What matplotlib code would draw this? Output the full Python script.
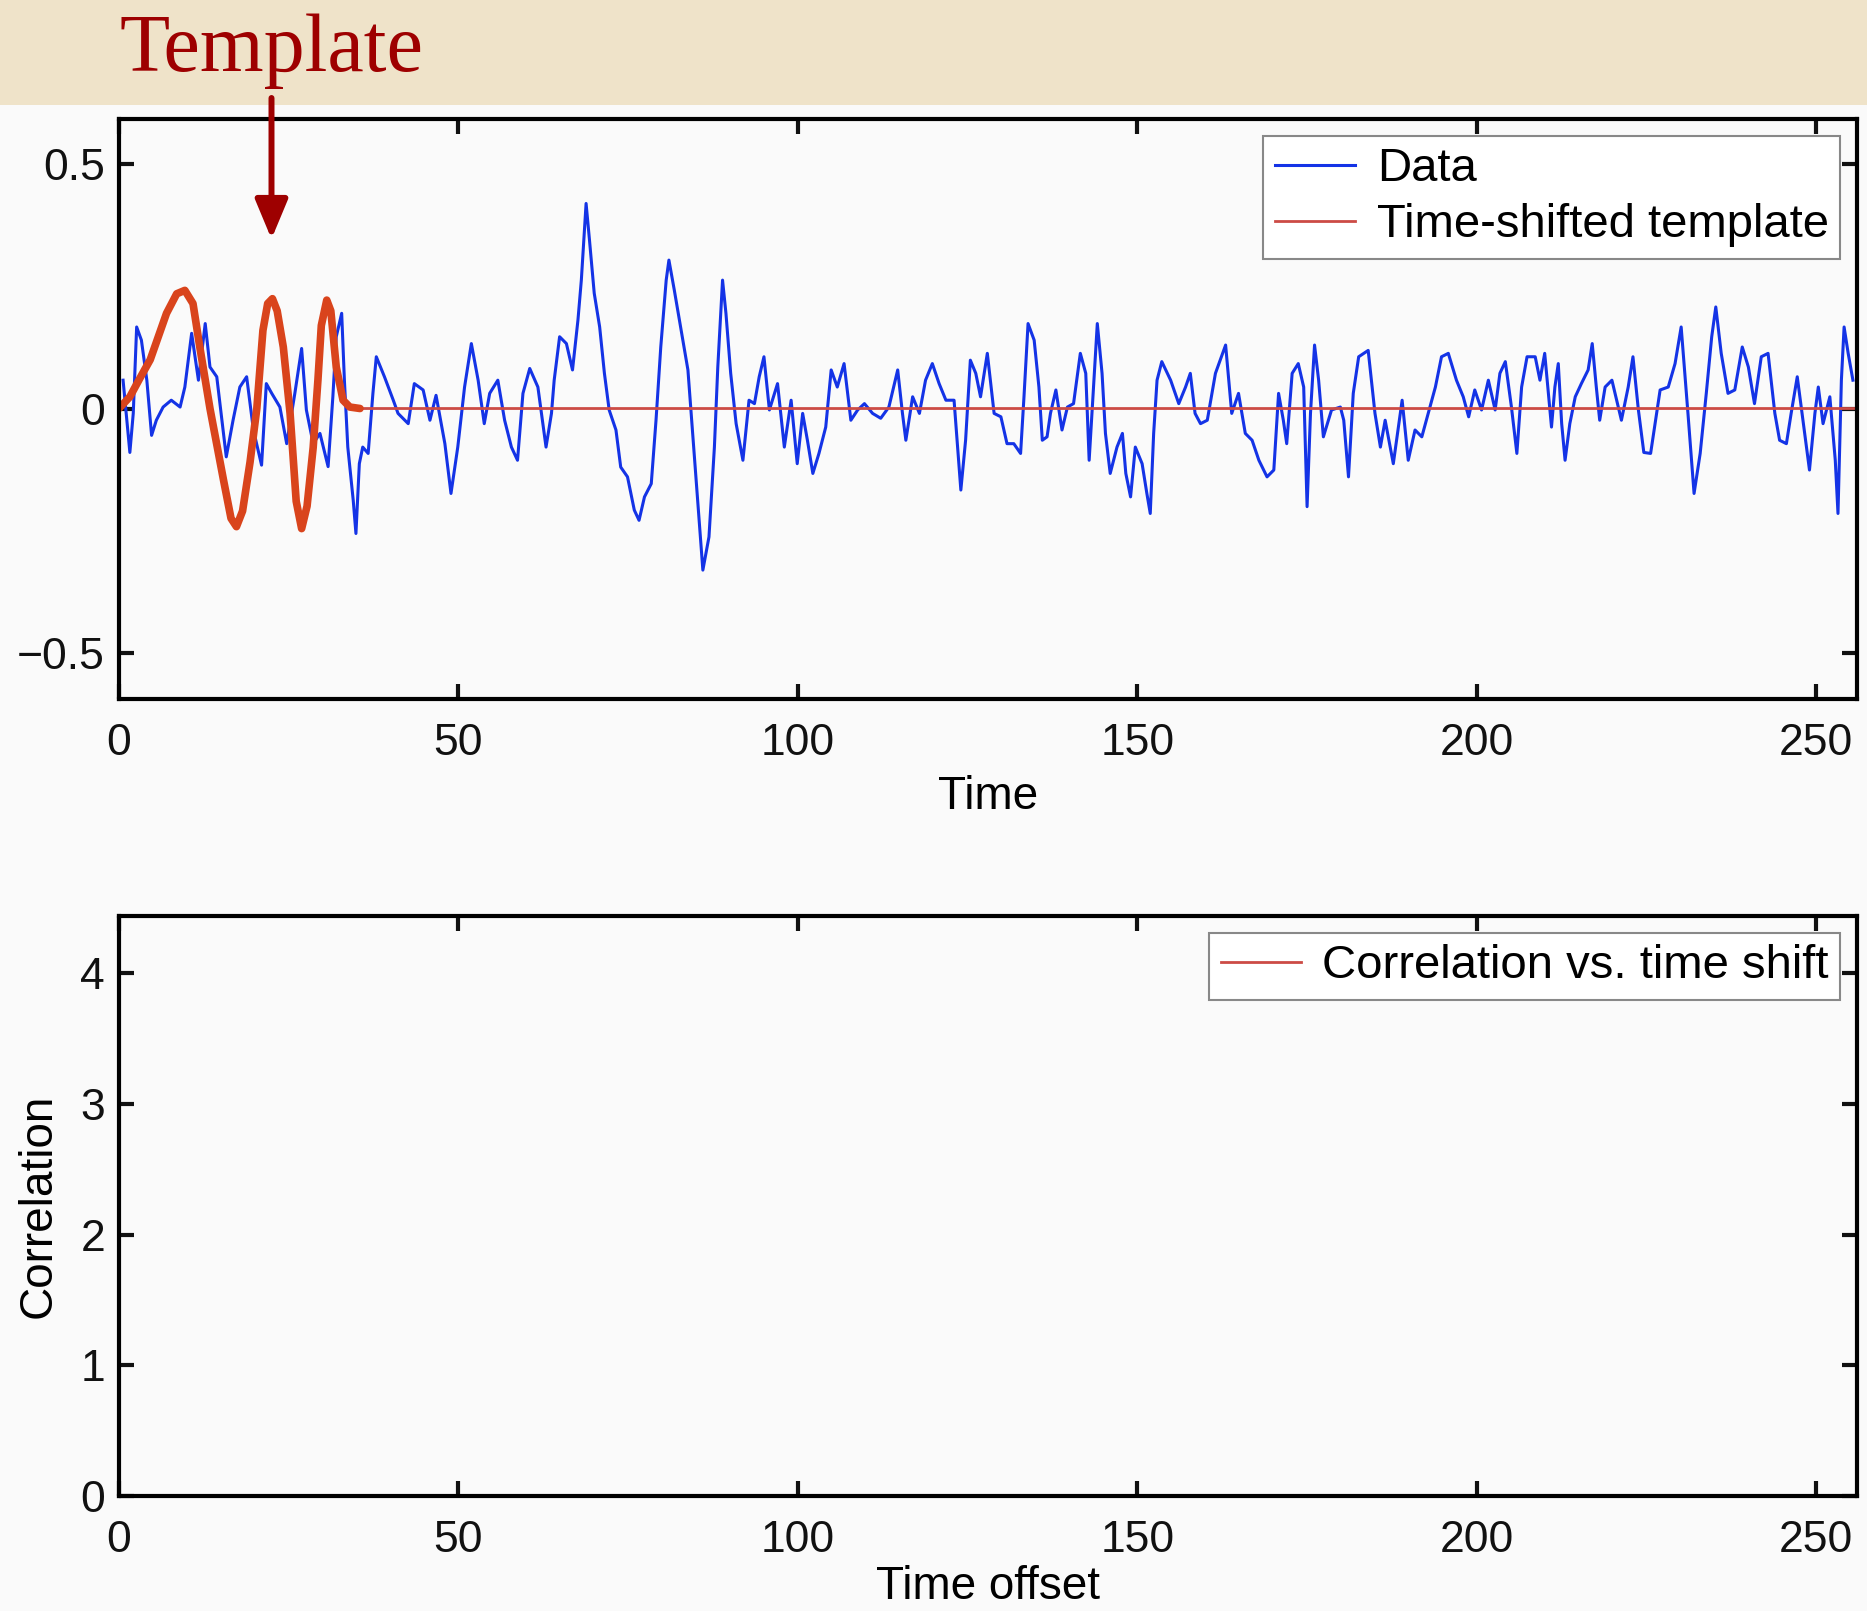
"""Matched filter slide: data vs. time-shifted template, and empty correlation panel."""
import matplotlib

matplotlib.use("Agg")
import matplotlib.pyplot as plt
from matplotlib.patches import FancyArrowPatch, Rectangle

# --- data ----------------------------------------------------------------
data_time = [
    0.6, 1.6, 2.1, 2.6, 3.3, 4.1, 4.8, 5.5, 6.5, 7.7, 9.0, 9.7, 10.7, 11.7, 12.7, 13.4,
    14.4, 15.8, 16.8, 17.8, 18.8, 19.8, 21.0, 21.7, 22.5, 23.7, 24.7, 25.9, 26.9, 27.6,
    28.6, 29.6, 30.8, 31.5, 32.0, 32.8, 33.2, 33.7, 34.5, 34.9, 35.4, 35.9, 36.7, 37.4,
    37.9, 39.1, 40.4, 41.1, 42.6, 43.5, 44.8, 45.8, 46.7, 48.0, 48.9, 49.9, 50.9, 51.9,
    52.9, 53.8, 54.6, 55.8, 56.8, 57.8, 58.7, 59.5, 60.5, 61.7, 62.9, 63.7, 64.1, 64.9,
    65.9, 66.8, 67.6, 68.1, 68.8, 69.3, 70.0, 70.8, 71.5, 72.2, 73.2, 73.9, 74.9, 75.9,
    76.6, 77.4, 78.4, 79.1, 79.8, 80.6, 81.0, 81.8, 82.8, 83.8, 84.5, 85.2, 86.0, 86.9,
    87.7, 88.2, 88.9, 89.4, 90.1, 90.9, 91.9, 92.8, 93.6, 94.3, 95.0, 95.8, 97.0, 98.0,
    99.0, 99.9, 100.7, 101.4, 102.2, 103.1, 104.1, 104.9, 105.8, 106.8, 107.8, 108.8,
    109.8, 111.0, 112.2, 113.4, 114.7, 115.4, 115.9, 116.9, 117.9, 118.8, 119.8, 120.8,
    121.8, 123.0, 124.0, 124.7, 125.4, 126.2, 126.9, 127.9, 128.9, 129.9, 130.8, 131.8,
    132.8, 133.3, 133.9, 134.8, 135.5, 136.0, 136.7, 137.2, 138.0, 138.9, 139.7, 140.6,
    141.6, 142.4, 142.9, 143.6, 144.1, 144.8, 145.3, 146.0, 147.0, 147.8, 148.3, 149.0,
    149.7, 150.7, 151.4, 151.9, 152.4, 152.9, 153.6, 154.9, 156.1, 157.1, 157.8, 158.5,
    159.3, 160.3, 161.5, 163.0, 163.9, 164.9, 165.9, 166.9, 167.9, 169.1, 170.1, 170.8,
    171.5, 172.0, 172.8, 173.7, 174.5, 175.0, 175.5, 176.1, 176.7, 177.4, 178.6, 179.9,
    180.4, 181.1, 181.8, 182.6, 184.0, 185.0, 185.8, 186.5, 187.7, 189.0, 189.9, 190.9,
    191.9, 193.1, 193.9, 194.8, 195.8, 197.0, 198.0, 198.8, 199.7, 200.7, 201.7, 202.7,
    203.4, 204.2, 205.1, 205.9, 206.6, 207.4, 208.6, 209.3, 210.0, 211.0, 211.5, 212.0,
    212.5, 213.0, 213.7, 214.5, 215.4, 216.4, 217.0, 217.6, 218.1, 218.9, 219.9, 220.6,
    221.3, 222.3, 223.0, 223.8, 224.6, 225.6, 227.0, 228.2, 229.2, 230.1, 231.1, 232.0,
    232.9, 233.8, 234.6, 235.2, 236.0, 237.0, 238.0, 239.1, 240.0, 240.9, 241.9, 242.9,
    243.9, 244.6, 245.6, 246.3, 247.2, 248.1, 249.0, 249.8, 250.3, 251.0, 252.0, 252.8,
    253.2, 253.7, 254.1, 254.7, 255.4,
]
data_value = [
    0.058, -0.090, -0.010, 0.167, 0.140, 0.058, -0.055, -0.024, 0.003, 0.017, 0.003, 0.044,
    0.154, 0.058, 0.174, 0.085, 0.065, -0.099, -0.024, 0.044, 0.065, -0.044, -0.116, 0.051,
    0.031, 0.003, -0.072, 0.031, 0.123, -0.003, -0.072, -0.051, -0.119, 0.024, 0.147, 0.195,
    0.058, -0.079, -0.188, -0.256, -0.113, -0.079, -0.092, 0.031, 0.106, 0.065, 0.017, -0.010,
    -0.031, 0.051, 0.038, -0.024, 0.027, -0.072, -0.174, -0.079, 0.044, 0.133, 0.058, -0.031,
    0.031, 0.058, -0.024, -0.079, -0.106, 0.031, 0.082, 0.044, -0.079, -0.010, 0.058, 0.147,
    0.133, 0.079, 0.181, 0.263, 0.420, 0.345, 0.236, 0.167, 0.072, -0.003, -0.044, -0.120,
    -0.140, -0.208, -0.229, -0.181, -0.154, -0.024, 0.126, 0.263, 0.304, 0.242, 0.160, 0.079,
    -0.051, -0.181, -0.331, -0.263, -0.079, 0.085, 0.263, 0.195, 0.072, -0.031, -0.106, 0.017,
    0.010, 0.065, 0.106, -0.003, 0.051, -0.079, 0.017, -0.113, -0.010, -0.065, -0.133, -0.092,
    -0.038, 0.079, 0.044, 0.092, -0.024, -0.003, 0.010, -0.010, -0.020, 0.003, 0.079, -0.010,
    -0.065, 0.024, -0.010, 0.058, 0.092, 0.051, 0.017, 0.017, -0.167, -0.065, 0.099, 0.072,
    0.024, 0.113, -0.010, -0.017, -0.072, -0.072, -0.092, 0.024, 0.174, 0.140, 0.044, -0.065,
    -0.058, -0.010, 0.038, -0.044, 0.003, 0.010, 0.113, 0.072, -0.106, 0.058, 0.174, 0.072,
    -0.051, -0.133, -0.079, -0.051, -0.133, -0.181, -0.079, -0.113, -0.174, -0.215, -0.051, 0.058,
    0.096, 0.058, 0.010, 0.044, 0.072, -0.010, -0.031, -0.024, 0.072, 0.130, -0.010, 0.031,
    -0.051, -0.065, -0.106, -0.140, -0.126, 0.031, -0.024, -0.072, 0.072, 0.092, 0.044, -0.201,
    -0.010, 0.130, 0.058, -0.058, -0.003, 0.003, -0.024, -0.140, 0.031, 0.106, 0.119, -0.010,
    -0.079, -0.024, -0.113, 0.017, -0.106, -0.044, -0.058, 0.003, 0.044, 0.106, 0.113, 0.058,
    0.024, -0.017, 0.038, -0.003, 0.058, -0.003, 0.072, 0.096, 0.003, -0.092, 0.044, 0.106,
    0.106, 0.058, 0.113, -0.038, 0.044, 0.092, -0.031, -0.106, -0.031, 0.024, 0.051, 0.079,
    0.133, 0.044, -0.024, 0.044, 0.058, 0.017, -0.024, 0.044, 0.106, -0.003, -0.090, -0.092,
    0.038, 0.044, 0.092, 0.167, -0.010, -0.174, -0.092, 0.031, 0.147, 0.208, 0.113, 0.031,
    0.038, 0.126, 0.085, 0.010, 0.106, 0.113, -0.010, -0.065, -0.072, -0.010, 0.065, -0.031,
    -0.126, -0.010, 0.044, -0.031, 0.024, -0.106, -0.215, 0.058, 0.167, 0.113, 0.058,
]

template_time = [
    0.0, 1.6, 3.0, 4.6, 7.0, 8.5, 9.7, 10.9, 11.9, 13.4, 15.4, 16.5, 17.3, 18.2, 19.3,
    20.3, 21.2, 21.9, 22.6, 23.3, 24.2, 25.2, 26.1, 26.9, 27.7, 28.6, 29.3, 29.8, 30.6,
    31.2, 32.0, 33.0, 34.0, 35.5,
]
template_value = [
    0.0, 0.024, 0.06, 0.10, 0.195, 0.235, 0.242, 0.215, 0.126, 0.0, -0.147, -0.225, -0.242,
    -0.21, -0.11, 0.0, 0.16, 0.215, 0.225, 0.20, 0.126, -0.01, -0.19, -0.246, -0.20, -0.08,
    0.058, 0.17, 0.222, 0.20, 0.085, 0.017, 0.003, 0.0,
]
# shifted template is zero after the chirp, out to the end of the record
shift_end = 256

corr_offset = []
corr_value = []

W, H = 1867, 1611
BG = "#FAFAFA"
plt.rcParams["font.family"] = ["Liberation Sans", "DejaVu Sans"]

fig = plt.figure(figsize=(W / 100, H / 100), dpi=100)
fig.patch.set_facecolor(BG)
fig.add_artist(Rectangle((0, 1 - 105 / H), 1, 105 / H, transform=fig.transFigure,
                         facecolor="#EFE3C9", edgecolor="none", zorder=0))


def style_axes(ax):
    ax.set_facecolor(BG)
    for sp in ax.spines.values():
        sp.set_linewidth(3)
    ax.tick_params(direction="in", length=11, width=3, top=True, right=True,
                   labelsize=32, colors="#111111")
    ax.tick_params(axis="x", pad=17)
    ax.tick_params(axis="y", pad=10)
    ax.set_xlim(0, 256)
    ax.set_xticks([0, 50, 100, 150, 200, 250])


legend_kw = dict(loc="upper right", fontsize=34, fancybox=False, edgecolor="#888888",
                 framealpha=1, handlelength=1.7, handletextpad=0.45, labelspacing=0.25,
                 borderpad=0.25, borderaxespad=0.35)

ax1 = fig.add_axes([119 / W, 1 - 699 / H, (1857 - 119) / W, (699 - 119) / H])
style_axes(ax1)
ax1.plot(data_time, data_value, color="#1433E6", lw=2.2, label="Data")
ax1.plot(template_time + [shift_end], template_value + [0.0], color="#CC4B45", lw=2.0,
         label="Time-shifted template")
ax1.plot(template_time, template_value, color="#D9441C", lw=5.5, solid_capstyle="round",
         solid_joinstyle="round")
ax1.set_ylim(-0.595, 0.593)
ax1.set_yticks([-0.5, 0, 0.5])
ax1.set_yticklabels(["\u22120.5", "0", "0.5"])
ax1.set_xlabel("Time", fontsize=33, labelpad=8)
leg1 = ax1.legend(**legend_kw)
leg1.get_frame().set_linewidth(1.5)

ax2 = fig.add_axes([119 / W, 1 - 1496 / H, (1857 - 119) / W, (1496 - 916) / H])
style_axes(ax2)
ax2.plot(corr_offset, corr_value, color="#CC4B45", lw=2.0, label="Correlation vs. time shift")
ax2.set_ylim(0, 4.44)
ax2.set_yticks([0, 1, 2, 3, 4])
ax2.set_xlabel("Time offset", fontsize=33, labelpad=3)
ax2.set_ylabel("Correlation", fontsize=33, labelpad=14)
leg2 = ax2.legend(**legend_kw)
leg2.get_frame().set_linewidth(1.5)

# slide annotation
fig.text(119 / W, 1 - 71 / H, "Template", ha="left", va="baseline", fontsize=59,
         family=["Liberation Serif", "DejaVu Serif"], color="#9E0000")
fig.add_artist(FancyArrowPatch((271.5 / W, 1 - 98 / H), (271.5 / W, 1 - 239 / H),
                               transform=fig.transFigure,
                               arrowstyle="-|>,head_length=1.2,head_width=0.5",
                               mutation_scale=20, lw=4.3, color="#9E0000",
                               shrinkA=0, shrinkB=0))

fig.savefig("out.png", dpi=100, facecolor=fig.get_facecolor())
